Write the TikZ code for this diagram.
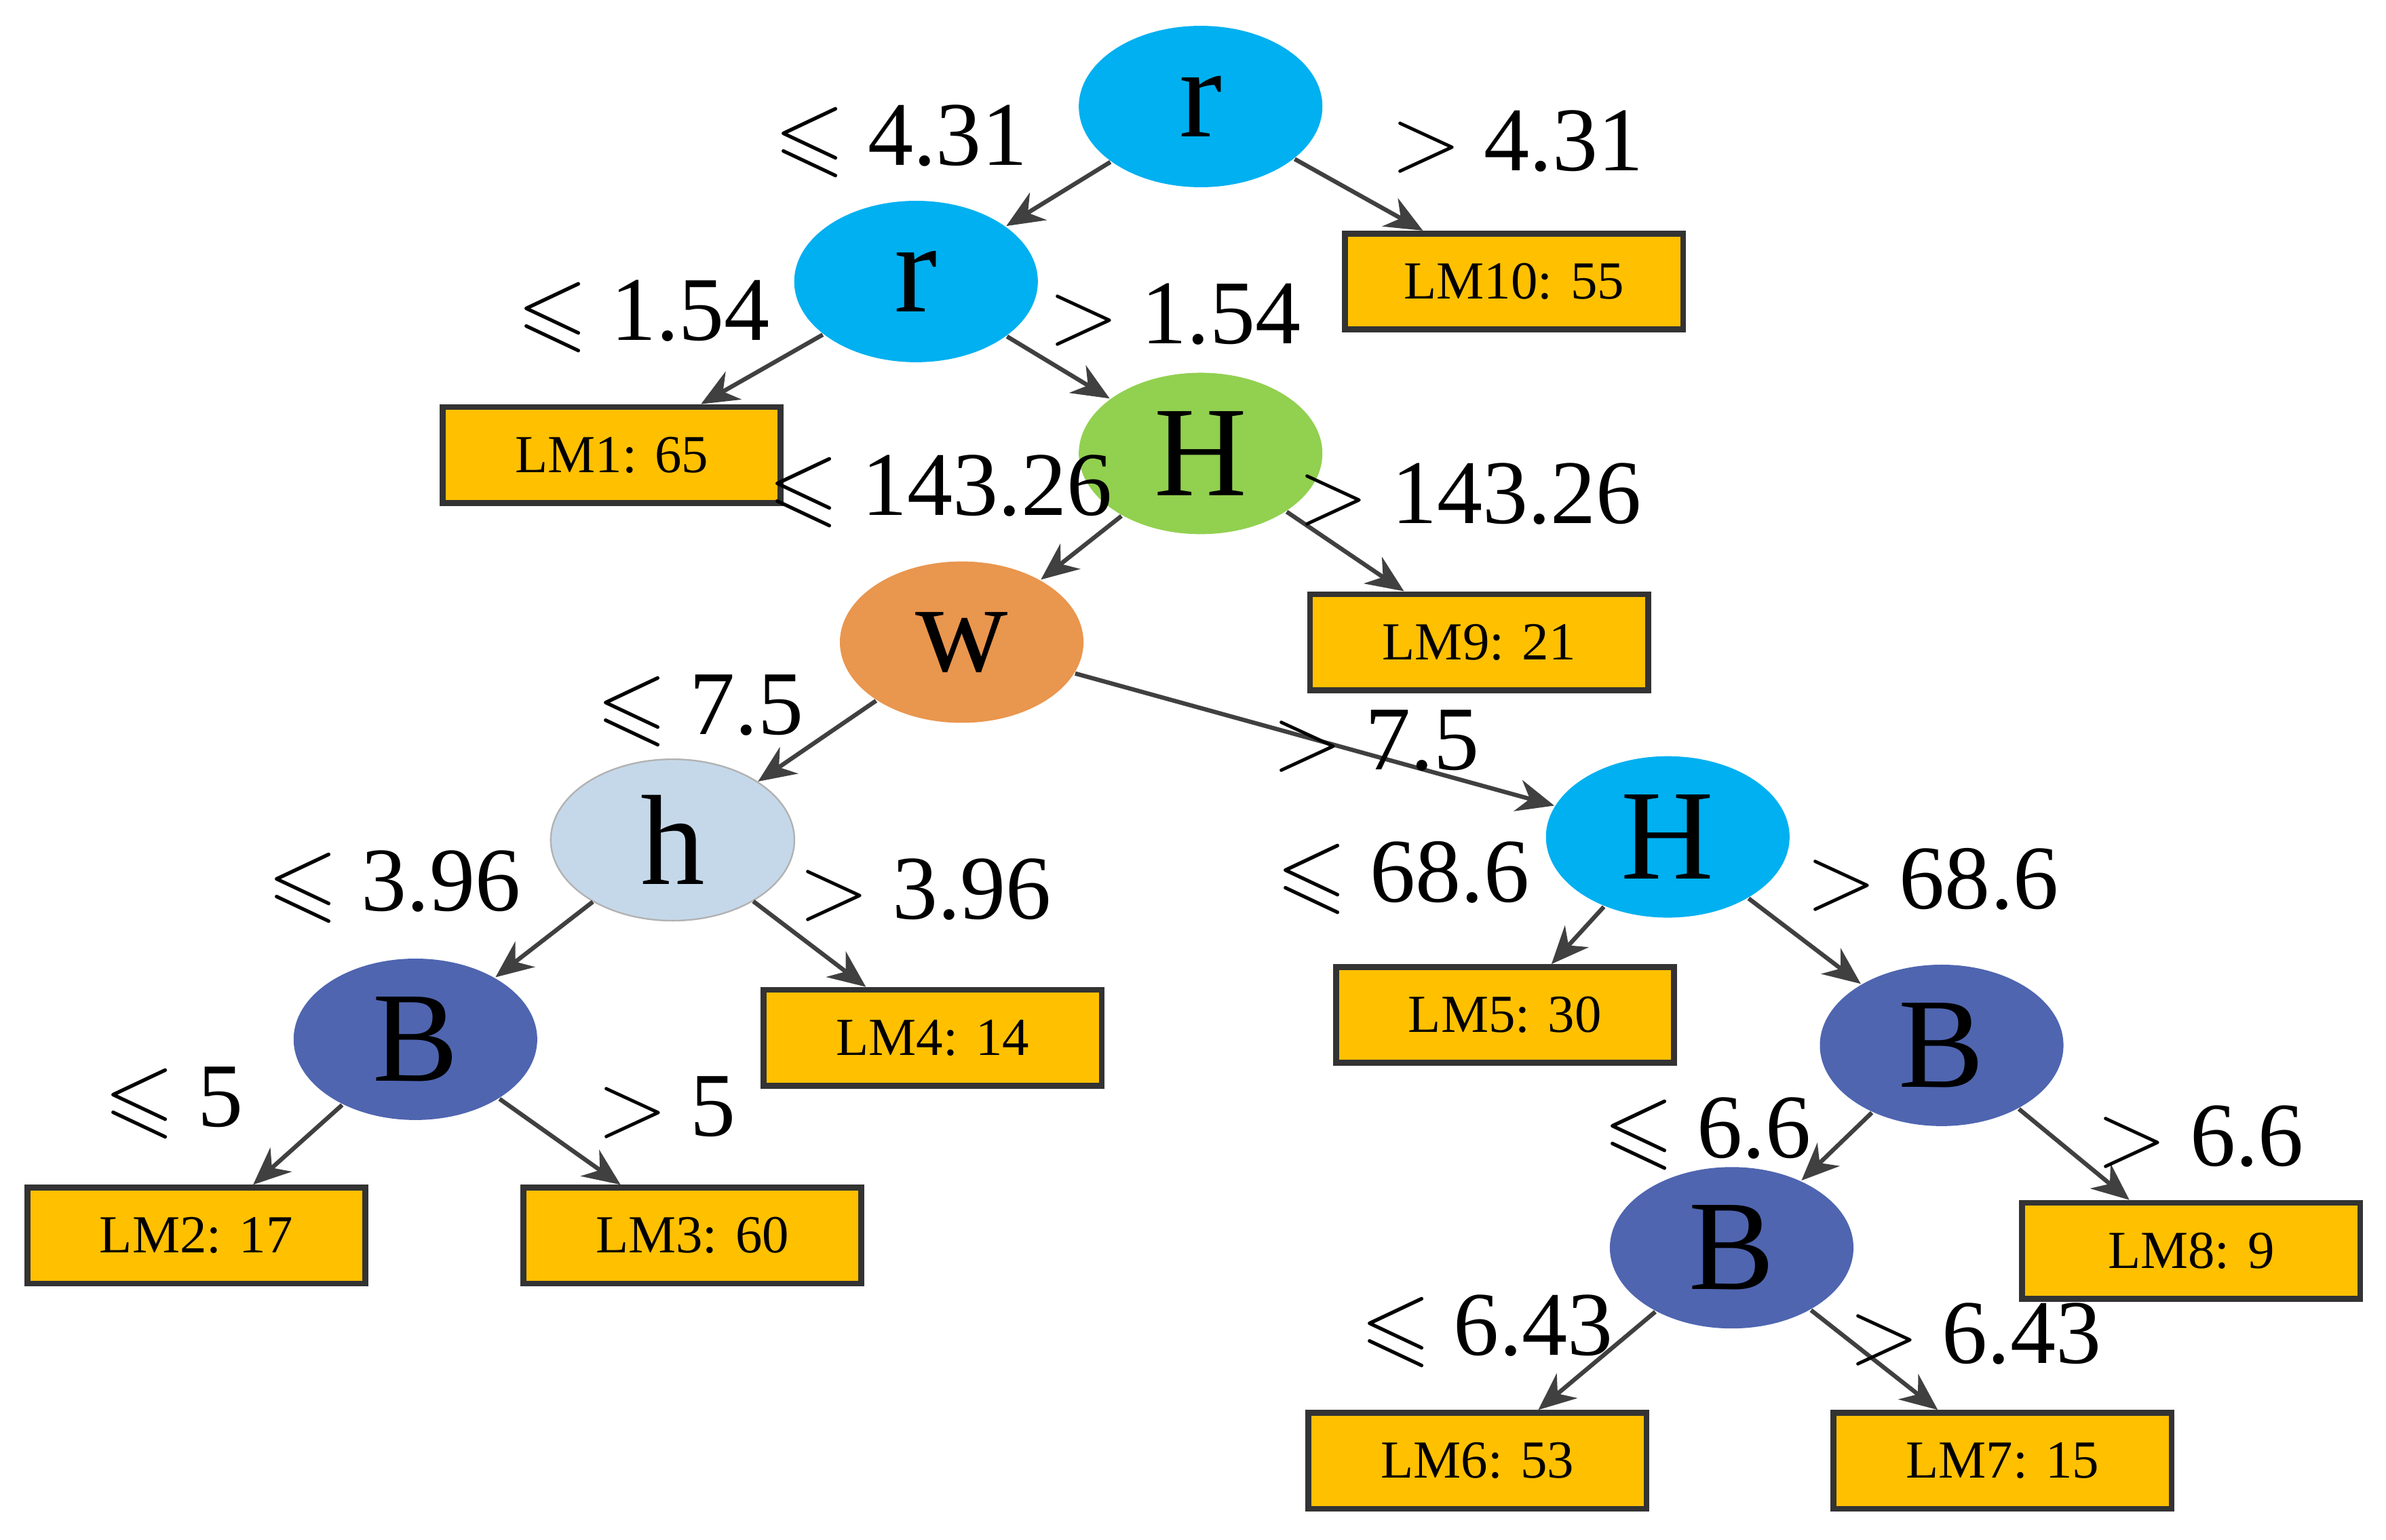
\documentclass[tikz,border=0pt]{standalone}
\usepackage{amssymb}
\usepackage{fontspec}
\setmainfont{Liberation Serif}
\usetikzlibrary{shapes.geometric,arrows.meta}
\definecolor{cblue}{HTML}{00B0F0}
\definecolor{cgreen}{HTML}{92D050}
\definecolor{corange}{HTML}{E9964E}
\definecolor{clight}{HTML}{C5D8EA}
\definecolor{cdark}{HTML}{4F65B0}
\definecolor{cbox}{HTML}{FFC000}
\definecolor{cline}{HTML}{404040}
\begin{document}
\begin{tikzpicture}[x=0.01cm,y=-0.01cm,
  el/.style={ellipse,minimum width=1.6cm,minimum height=1.06cm,inner sep=0pt,font=\fontsize{24}{24}\selectfont},
  box/.style={rectangle,draw=cline!80!black,line width=1.1pt,fill=cbox,minimum width=2.22cm,minimum height=0.63cm,inner sep=0pt,font=\fontsize{10}{10}\selectfont},
  lab/.style={font=\fontsize{17}{17}\selectfont},
  edge/.style={draw=cline,line width=0.8pt,-{Stealth[length=7pt,width=6pt]}}]
\useasboundingbox (0,0) rectangle (1568,1012);
\node[el,fill=cblue] (r1) at (789,70) {r};
\node[el,fill=cblue] (r2) at (602,185) {r};
\node[el,fill=cgreen] (H1) at (789,298) {H};
\node[el,fill=corange] (w) at (632,422) {w};
\node[el,fill=clight,draw=gray!60,line width=0.3pt] (h) at (442,552) {h};
\node[el,fill=cdark] (B1) at (273,683) {B};
\node[el,fill=cblue] (H2) at (1096,550) {H};
\node[el,fill=cdark] (B2) at (1276,687) {B};
\node[el,fill=cdark] (B3) at (1138,820) {B};
\node[box] (L10) at (995,185) {LM10: 55};
\node[box] (L1) at (402,299) {LM1: 65};
\node[box] (L9) at (972,422) {LM9: 21};
\node[box] (L4) at (613,682) {LM4: 14};
\node[box] (L2) at (129,812) {LM2: 17};
\node[box] (L3) at (455,812) {LM3: 60};
\node[box] (L5) at (989,667) {LM5: 30};
\node[box] (L8) at (1440,822) {LM8: 9};
\node[box] (L6) at (971,960) {LM6: 53};
\node[box] (L7) at (1316,960) {LM7: 15};
\draw[edge] (r1) -- (r2);
\draw[edge] (r1) -- (L10);
\draw[edge] (r2) -- (L1);
\draw[edge] (r2) -- (H1);
\draw[edge] (H1) -- (w);
\draw[edge] (H1) -- (L9);
\draw[edge] (w) -- (h);
\draw[edge] (w) -- (H2);
\draw[edge] (h) -- (B1);
\draw[edge] (h) -- (L4);
\draw[edge] (B1) -- (L2);
\draw[edge] (B1) -- (L3);
\draw[edge] (H2) -- (L5);
\draw[edge] (H2) -- (B2);
\draw[edge] (B2) -- (B3);
\draw[edge] (B2) -- (L8);
\draw[edge] (B3) -- (L6);
\draw[edge] (B3) -- (L7);
\node[lab] (a1) at (592,93) {$\leqslant$ 4.31};
\node[lab] (a2) at (997,93) {$>$ 4.31};
\node[lab] (a3) at (423,208) {$\leqslant$ 1.54};
\node[lab] (a4) at (772,207) {$>$ 1.54};
\node[lab] (a5) at (618,323) {$\leqslant$ 143.26};
\node[lab] (a6) at (966,325) {$>$ 143.26};
\node[lab] (a7) at (460,467) {$\leqslant$ 7.5};
\node[lab] (a8) at (904,487) {$>$ 7.5};
\node[lab] (a9) at (259,583) {$\leqslant$ 3.96};
\node[lab] (a10) at (608,585) {$>$ 3.96};
\node[lab] (a11) at (114,725) {$\leqslant$ 5};
\node[lab] (a12) at (438,728) {$>$ 5};
\node[lab] (a13) at (922,577) {$\leqslant$ 68.6};
\node[lab] (a14) at (1270,578) {$>$ 68.6};
\node[lab] (a15) at (1122,745) {$\leqslant$ 6.6};
\node[lab] (a16) at (1446,747) {$>$ 6.6};
\node[lab] (a17) at (977,875) {$\leqslant$ 6.43};
\node[lab] (a18) at (1298,877) {$>$ 6.43};
\end{tikzpicture}
\end{document}
